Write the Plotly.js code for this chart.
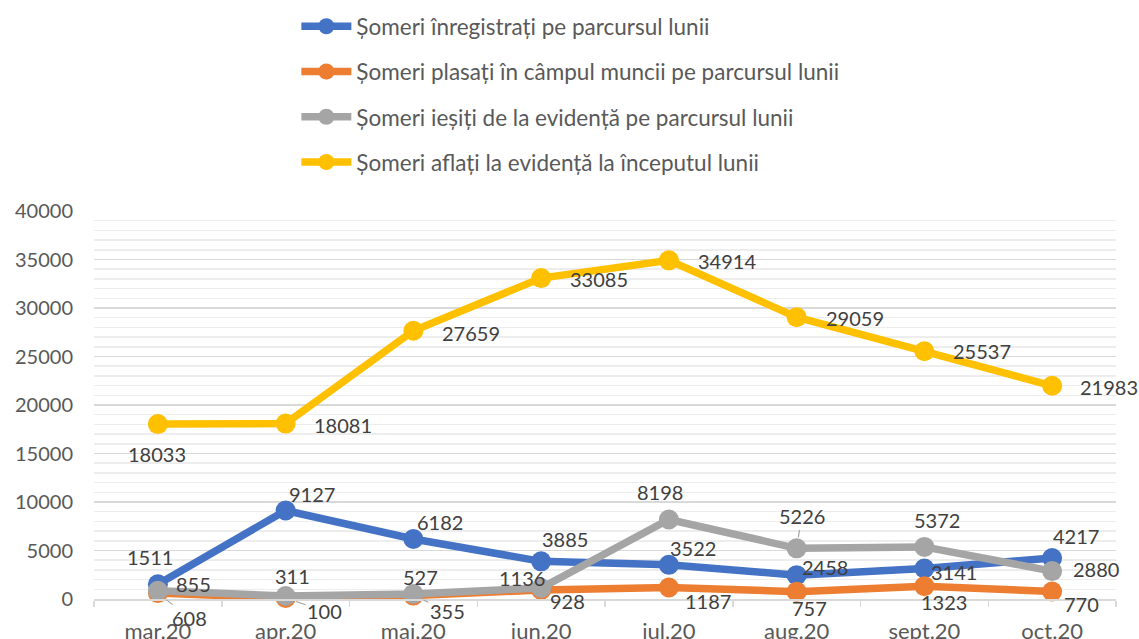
<!DOCTYPE html>
<html>
<head>
<meta charset="utf-8">
<script src="https://cdn.plot.ly/plotly-3.0.1.min.js"></script>
<style>html,body{margin:0;padding:0;background:#fff;}#chart{width:1139px;height:639px;}</style>
</head>
<body>
<div id="chart"></div>
<script>
// ---- data ----
const months = ["mar.20","apr.20","mai.20","iun.20","iul.20","aug.20","sept.20","oct.20"];
const seriesNames = [
  "Șomeri înregistrați pe parcursul lunii",
  "Șomeri plasați în câmpul muncii pe parcursul lunii",
  "Șomeri ieșiți de la evidență pe parcursul lunii",
  "Șomeri aflați la evidență la începutul lunii"
];
const registered = [1511, 9127, 6182, 3885, 3522, 2458, 3141, 4217];
const placed     = [608, 100, 355, 928, 1187, 757, 1323, 770];
const exited     = [855, 311, 527, 1136, 8198, 5226, 5372, 2880];
const onRecord   = [18033, 18081, 27659, 33085, 34914, 29059, 25537, 21983];

// ---- styling ----
const colors = ["#4472C4", "#ED7D31", "#A5A5A5", "#FFC000"];
const FONT = "Lato, 'Open Sans', sans-serif";
// label offsets in px (dx right, dy down) and whether a leader line is drawn
const labelOffsets = [
  [[-8,-27],[26,-16],[27,-17],[24,-22],[24,-17],[28,-8],[30,3],[24,-22]],
  [[32,25],[39,13],[34,15],[26,11],[39,14],[13,16],[20,16],[29,12]],
  [[36,-7],[7,-20],[7,-17],[-19,-10],[-9,-27],[5,-32],[13,-27],[44,-2]],
  [[-1,30],[57,1],[58,2],[58,1],[58,1],[58,1],[58,0],[57,1]]
];
const leaders = [
  [],
  [0,1,2],
  [5],
  []
];

const allSeries = [registered, placed, exited, onRecord];

const traces = allSeries.map((vals, i) => ({
  type: "scatter",
  mode: "lines+markers",
  x: months,
  y: vals,
  name: seriesNames[i],
  legendgroup: "g" + i,
  line: {color: colors[i], width: 7.5},
  marker: {color: colors[i], size: 20},
  hoverinfo: "skip",
  cliponaxis: false
}));

const annotations = [];
allSeries.forEach((vals, i) => {
  vals.forEach((v, j) => {
    const [dx, dy] = labelOffsets[i][j];
    const base = {
      x: months[j], y: v, xref: "x", yref: "y",
      text: String(v),
      font: {family: FONT, size: 20, color: "#404040"},
      xanchor: "center", yanchor: "middle"
    };
    if (leaders[i].includes(j)) {
      Object.assign(base, {
        showarrow: true, ax: dx, ay: dy, axref: "pixel", ayref: "pixel",
        arrowhead: 0, arrowwidth: 1.2, arrowcolor: "#A5A5A5", standoff: 11
      });
    } else {
      Object.assign(base, {showarrow: false, xshift: dx, yshift: -dy});
    }
    annotations.push(base);
  });
});

const layout = {
  width: 1139, height: 639,
  margin: {l: 94, r: 23, t: 211, b: 40},
  paper_bgcolor: "#fff", plot_bgcolor: "#fff",
  font: {family: FONT, size: 20, color: "#595959"},
  showlegend: true,
  legend: {
    x: 0.198, y: 0.992, xref: "paper", yref: "container",
    xanchor: "left", yanchor: "top",
    orientation: "v",
    traceorder: "grouped",
    tracegroupgap: 13,
    font: {family: FONT, size: 22.5, color: "#595959"},
    bgcolor: "rgba(0,0,0,0)",
    itemwidth: 50
  },
  xaxis: {
    type: "category",
    range: [-0.5, 7.5],
    showgrid: false,
    showline: true, linecolor: "#D9D9D9", linewidth: 1.5,
    ticks: "outside", tickson: "boundaries", ticklen: 6, tickcolor: "#D9D9D9", tickwidth: 1.5,
    ticklabelstandoff: 12,
    tickfont: {family: FONT, size: 22, color: "#595959"},
    zeroline: false,
    fixedrange: true
  },
  yaxis: {
    range: [0, 40000],
    dtick: 5000, tick0: 0,
    tickformat: "d",
    showgrid: true, gridcolor: "#D9D9D9", gridwidth: 1.5,
    minor: {dtick: 1000, showgrid: true, gridcolor: "#EDEDED", gridwidth: 1.5},
    zeroline: false,
    showline: false,
    ticks: "",
    ticklabelstandoff: 20,
    tickfont: {family: FONT, size: 20, color: "#595959"},
    fixedrange: true
  },
  annotations: annotations
};

Plotly.newPlot("chart", traces, layout, {displayModeBar: false, staticPlot: true});
</script>
</body>
</html>
